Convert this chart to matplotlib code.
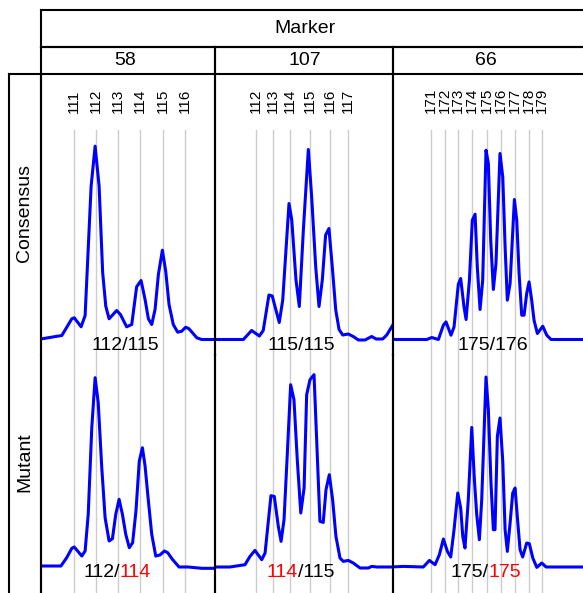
import matplotlib
matplotlib.use('Agg')
import matplotlib.pyplot as plt

plt.rcParams['font.family'] = ['Liberation Sans', 'DejaVu Sans']

# markers and sample rows
markers = ['58', '107', '66']
samples = ['Consensus', 'Mutant']

# allele bins (bp) and their labels, per marker
bins_58 = [111.0, 111.98, 112.97, 113.97, 115.0, 116.0]
bins_107 = [112.0, 112.94, 113.86, 114.93, 116.02, 117.0]
bins_66 = [171.0, 172.01, 172.93, 173.96, 175.02, 176.03, 177.07, 178.08, 179.0]
bin_labels_58 = ['111', '112', '113', '114', '115', '116']
bin_labels_107 = ['112', '113', '114', '115', '116', '117']
bin_labels_66 = ['171', '172', '173', '174', '175', '176', '177', '178', '179']

# traces: size (bp) and signal
cons_58_x = [109.55, 110.45, 110.90, 111.01, 111.32, 111.50, 111.77, 111.95, 112.13, 112.29,
             112.43, 112.58, 112.92, 113.09, 113.37, 113.60, 113.82, 114.02, 114.20, 114.35,
             114.50, 114.65, 114.80, 114.98, 115.13, 115.28, 115.47, 115.67, 115.85, 116.03,
             116.18, 116.53, 116.75, 117.43]
cons_58_y = [0.7, 4, 20.7, 21.7, 12.7, 24, 153.3, 193.3, 153.3, 67,
             33.3, 20.7, 29, 25, 12.7, 15, 52.7, 59, 40, 20.7,
             15, 30, 65, 89.3, 68.3, 35, 15, 7.3, 8.3, 12.3,
             10.7, 1.7, 0, 0]
mut_58_x = [109.55, 110.41, 110.67, 110.90, 111.01, 111.35, 111.50, 111.64, 111.80, 111.95,
            112.09, 112.25, 112.40, 112.58, 112.73, 112.88, 113.03, 113.18, 113.33, 113.49,
            113.64, 113.79, 113.94, 114.08, 114.20, 114.35, 114.50, 114.68, 114.87, 115.07,
            115.22, 115.43, 115.73, 116.15, 116.75, 117.43]
mut_58_y = [1, 1, 9.3, 18.7, 20, 11, 16, 52.7, 139.3, 189.3,
            164.3, 99.3, 49.3, 26, 28.3, 52.7, 67.7, 52.7, 32.7, 19.3,
            24.3, 56, 106, 119.3, 101, 66, 32.7, 11, 12, 16,
            14.3, 7.7, 0, 0, -1.3, -1.3]

cons_107_x = [109.52, 111.33, 111.78, 112.20, 112.41, 112.72, 112.90, 113.28, 113.47, 113.81,
              113.96, 114.19, 114.37, 114.59, 114.86, 115.04, 115.26, 115.44, 115.62, 115.80,
              115.98, 116.16, 116.35, 116.53, 116.73, 117.03, 117.30, 117.58, 117.94, 118.30,
              118.54, 118.90, 119.12, 119.45, 119.63]
cons_107_y = [0, 0, 9, 3.5, 9, 44.5, 43.5, 17, 39.5, 136,
              119.5, 59.5, 33, 109.5, 190, 143, 73, 33, 59.5, 104.5,
              111, 73, 29.5, 10, 4.5, 5.5, 3, -0.5, -0.5, 3,
              0.5, 0.5, 4.5, 14.5, 21.5]
mut_107_x = [109.52, 110.60, 111.42, 111.69, 111.96, 112.33, 112.51, 112.83, 113.01, 113.23,
             113.38, 113.54, 113.72, 113.90, 114.08, 114.26, 114.45, 114.63, 114.77, 114.95,
             115.17, 115.32, 115.49, 115.67, 115.82, 116.00, 116.18, 116.36, 116.58, 116.76,
             117.03, 117.30, 117.67, 118.12, 118.30, 118.58, 119.48]
mut_107_y = [0, 0, 2.3, 10.6, 16.6, 7.3, 14, 71.3, 70.6, 40.6,
             25.6, 47.3, 114, 182.3, 167.3, 107.3, 54, 79, 172.3, 187.3,
             192.3, 124, 45.6, 44.6, 77.3, 92.3, 67.3, 30.6, 9, 5.6,
             6.6, 4, -1, -1, 0.6, 0, 0]

cons_66_x = [168.02, 168.38, 170.67, 171.03, 171.51, 171.87, 172.06, 172.42, 172.64, 172.95,
             173.12, 173.36, 173.51, 173.75, 173.96, 174.16, 174.32, 174.52, 174.71, 174.95,
             175.12, 175.29, 175.48, 175.67, 175.96, 176.16, 176.33, 176.49, 176.69, 177.00,
             177.17, 177.34, 177.53, 177.70, 177.89, 178.06, 178.25, 178.42, 178.66, 179.05,
             179.34, 179.65, 181.87, 193.0]
cons_66_y = [1, 0, 0, 2, 0, 14.3, 17.6, 4.3, 12.6, 55.3,
             61, 32.6, 20, 59.3, 119.3, 125.3, 72.6, 30, 59.3, 189.3,
             176, 99.3, 50, 76, 186, 162.6, 92.6, 39.3, 56, 140,
             119.3, 66, 24.3, 24.3, 46, 57.6, 39.3, 19.3, 6, 13.3,
             4.3, 0, 0, 0]
mut_66_x = [168.02, 168.98, 170.42, 170.86, 171.27, 171.58, 171.87, 172.16, 172.40, 172.64,
            172.91, 173.12, 173.27, 173.43, 173.67, 173.92, 174.11, 174.28, 174.47, 174.64,
            174.95, 175.12, 175.31, 175.48, 175.60, 175.77, 175.96, 176.16, 176.33, 176.49,
            176.69, 176.88, 177.05, 177.21, 177.41, 177.60, 177.89, 178.08, 178.33, 178.62,
            178.98, 179.29, 179.58, 181.87, 193.0]
mut_66_y = [0, 0.6, 0, 6.6, 2.3, 12.3, 28, 15.6, 10, 37.3,
            74, 59, 30.6, 19, 67.3, 139.6, 87.3, 52.3, 27.3, 67.3,
            190, 157.3, 84, 37.3, 37.3, 130.6, 149, 105.6, 37.3, 15.6,
            44, 74, 79, 50.6, 17.3, 10, 24, 23.3, 9, -0.4,
            4, 0, 0, 0, 0]

# genotype calls; red parts differ from consensus
calls_consensus = [[('112/115', 'black')], [('115/115', 'black')], [('175/176', 'black')]]
calls_mutant = [[('112/', 'black'), ('114', 'red')],
                [('114', 'red'), ('/115', 'black')],
                [('175/', 'black'), ('175', 'red')]]

W, H = 583, 593
LW = 1.5


def rect(x0, y0, x1, y1):
    return [x0 / W, 1 - y1 / H, (x1 - x0) / W, (y1 - y0) / H]


def blank(ax):
    ax.set_xticks([])
    ax.set_yticks([])
    ax.set_facecolor('none')
    for s in ax.spines.values():
        s.set_linewidth(LW)


def call_text(ax, x, y, parts):
    full = ''.join(p for p, c in parts)
    prev = ax.text(x, y, full, ha='center', va='baseline', fontsize=14, alpha=0)
    anchor = (0, 0)
    for s, c in parts:
        prev = ax.annotate(s, xy=anchor, xycoords=prev, ha='left', va='bottom',
                           fontsize=14, color=c)
        anchor = (1, 0)


def plot_genotypes():
    fig = plt.figure(figsize=(W / 100, H / 100), dpi=100)

    col_edges = [40.5, 215, 393, 740]
    xlims = [(109.49, 117.35), (109.79, 119.46), (168.23, 193.3)]
    call_x = [(113.31, 112.95), (114.47, 114.42), (175.46, 174.92)]
    bins = [bins_58, bins_107, bins_66]
    bin_labels = [bin_labels_58, bin_labels_107, bin_labels_66]
    traces = [[(cons_58_x, cons_58_y), (mut_58_x, mut_58_y)],
              [(cons_107_x, cons_107_y), (mut_107_x, mut_107_y)],
              [(cons_66_x, cons_66_y), (mut_66_x, mut_66_y)]]
    calls = [calls_consensus, calls_mutant]
    rows = [(74, 355, (-15.5, 265.5)), (355, 740, (-173, 212))]

    for i in range(3):
        for j in range(2):
            y0, y1, ylim = rows[j]
            ax = fig.add_axes(rect(col_edges[i], y0, col_edges[i + 1], y1))
            blank(ax)
            ax.spines['top'].set_visible(False)
            ax.spines['bottom'].set_visible(False)
            ax.set_xlim(*xlims[i])
            ax.set_ylim(*ylim)
            line_top = 1.0
            if j == 0:
                line_top = (209.5 - ylim[0]) / (ylim[1] - ylim[0])
                for b, lab in zip(bins[i], bin_labels[i]):
                    ax.text(b, 226.2, lab, rotation=90, ha='center', va='bottom',
                            fontsize=11)
            for b in bins[i]:
                ax.axvline(b, ymin=0, ymax=line_top, color='#cccccc', lw=1, zorder=1)
            tx, ty = traces[i][j]
            ax.plot(tx, ty, color='#0000ff', lw=2.2, zorder=2)
            call_text(ax, call_x[i][j], -10, calls[j][i])

    # header: Marker row, marker numbers
    hdr = fig.add_axes(rect(40.5, 10, 740, 46.5))
    blank(hdr)
    fig.text(305 / W, 1 - 28.5 / H, 'Marker', ha='center', va='center', fontsize=14)
    name_x = [125, 305, 486]
    for i in range(3):
        ax = fig.add_axes(rect(col_edges[i], 46.5, col_edges[i + 1], 74))
        blank(ax)
        fig.text(name_x[i] / W, 1 - 60.5 / H, markers[i], ha='center', va='center',
                 fontsize=14)

    # row strip
    strip = fig.add_axes(rect(9, 74, 40.5, 740))
    blank(strip)
    strip.spines['bottom'].set_visible(False)
    for name, yc in zip(samples, [213, 462]):
        fig.text(25 / W, 1 - yc / H, name, rotation=90, ha='center', va='center',
                 fontsize=14)

    fig.savefig('out.png', dpi=100)
    plt.close(fig)


if __name__ == '__main__':
    plot_genotypes()
